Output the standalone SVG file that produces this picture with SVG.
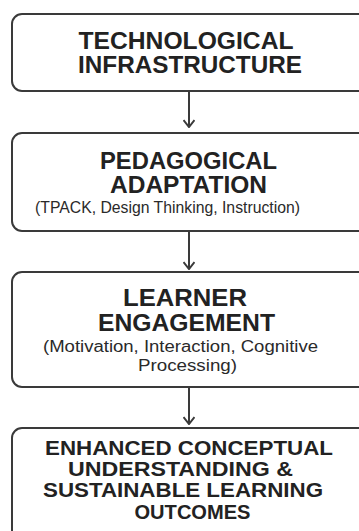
<svg xmlns="http://www.w3.org/2000/svg" width="359" height="531" viewBox="0 0 359 531">
  <style>
    .box { fill: #ffffff; stroke: #3a3a3a; stroke-width: 2; }
    .title { font-family: "Liberation Sans", Arial, sans-serif; font-weight: bold; font-size: 23px; fill: #222222; text-anchor: middle; }
    .title4 { font-family: "Liberation Sans", Arial, sans-serif; font-weight: bold; font-size: 21px; fill: #222222; text-anchor: middle; }
    .sub { font-family: "Liberation Sans", Arial, sans-serif; font-size: 16px; fill: #2a2a2a; text-anchor: middle; }
    .link { fill: none; stroke: #3a3a3a; stroke-width: 2; }
  </style>
  <defs>
    <!-- open chevron head, drawn pointing along +x so orient="auto" turns it down the line -->
    <marker id="chevron" viewBox="0 0 10 12" refX="9" refY="6" markerWidth="10" markerHeight="12" markerUnits="userSpaceOnUse" orient="auto">
      <path d="M2,0.5 L9,6 L2,11.5" fill="none" stroke="#3a3a3a" stroke-width="2"/>
    </marker>
  </defs>
  <rect width="359" height="531" fill="#ffffff"/>

  <g id="connectors">
    <line class="link" x1="189" y1="91" x2="189" y2="127" marker-end="url(#chevron)"/>
    <line class="link" x1="189" y1="231" x2="189" y2="269" marker-end="url(#chevron)"/>
    <line class="link" x1="189" y1="387" x2="189" y2="424" marker-end="url(#chevron)"/>
  </g>

  <g id="technological-infrastructure">
    <rect class="box" x="12" y="14" width="360" height="77" rx="10"/>
    <text class="title" x="186" y="49" textLength="215" lengthAdjust="spacingAndGlyphs">TECHNOLOGICAL</text>
    <text class="title" x="190" y="73" textLength="224" lengthAdjust="spacingAndGlyphs">INFRASTRUCTURE</text>
  </g>

  <g id="pedagogical-adaptation">
    <rect class="box" x="12" y="133" width="360" height="98" rx="10"/>
    <text class="title" x="188.5" y="169" textLength="177" lengthAdjust="spacingAndGlyphs">PEDAGOGICAL</text>
    <text class="title" x="188.5" y="193" textLength="157" lengthAdjust="spacingAndGlyphs">ADAPTATION</text>
    <text class="sub" x="167.5" y="213" textLength="265" lengthAdjust="spacingAndGlyphs">(TPACK, Design Thinking, Instruction)</text>
  </g>

  <g id="learner-engagement">
    <rect class="box" x="12" y="272" width="360" height="115" rx="10"/>
    <text class="title" x="185" y="306" textLength="124" lengthAdjust="spacingAndGlyphs">LEARNER</text>
    <text class="title" x="186.5" y="331" textLength="177" lengthAdjust="spacingAndGlyphs">ENGAGEMENT</text>
    <text class="sub" x="180.5" y="352" textLength="275" lengthAdjust="spacingAndGlyphs">(Motivation, Interaction, Cognitive</text>
    <text class="sub" x="187.5" y="371" textLength="99" lengthAdjust="spacingAndGlyphs">Processing)</text>
  </g>

  <g id="learning-outcomes">
    <rect class="box" x="12" y="428" width="360" height="130" rx="10"/>
    <text class="title4" x="189" y="455" textLength="288" lengthAdjust="spacingAndGlyphs">ENHANCED CONCEPTUAL</text>
    <text class="title4" x="180.5" y="476" textLength="225" lengthAdjust="spacingAndGlyphs">UNDERSTANDING &amp;</text>
    <text class="title4" x="183" y="497" textLength="280" lengthAdjust="spacingAndGlyphs">SUSTAINABLE LEARNING</text>
    <text class="title4" x="192.5" y="519" textLength="116" lengthAdjust="spacingAndGlyphs">OUTCOMES</text>
  </g>
</svg>
